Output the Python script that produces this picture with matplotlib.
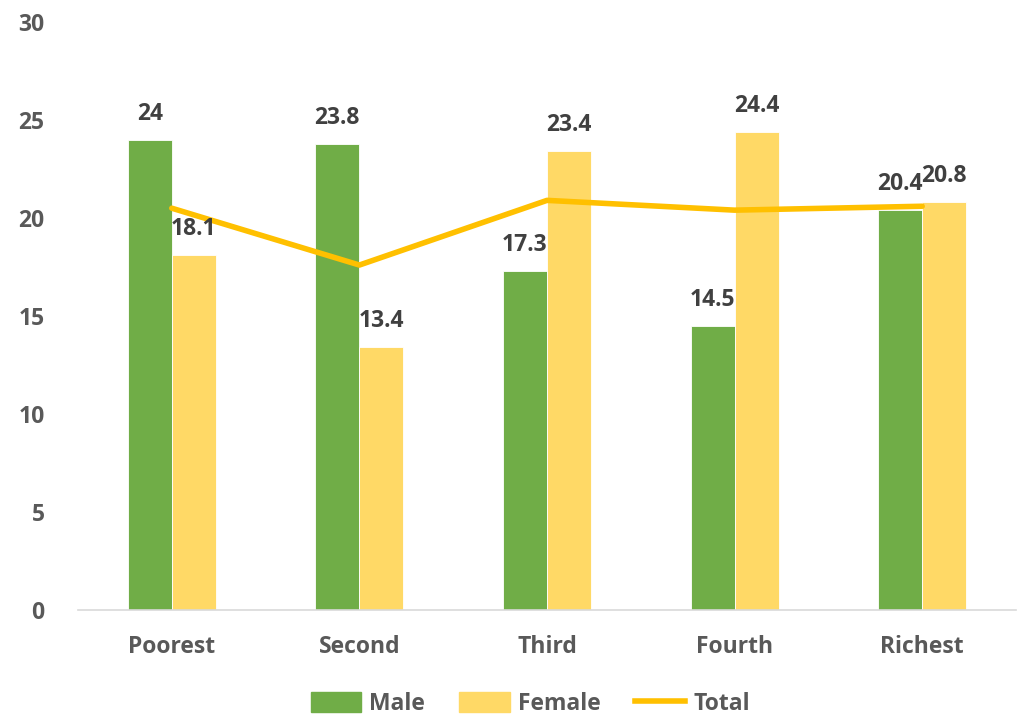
import numpy as np
import matplotlib.pyplot as plt
from matplotlib.patches import Patch
from matplotlib.lines import Line2D

plt.rcParams['font.family'] = ['Open Sans', 'DejaVu Sans']
plt.rcParams['font.weight'] = 'bold'

categories = ['Poorest', 'Second', 'Third', 'Fourth', 'Richest']
male = [24, 23.8, 17.3, 14.5, 20.4]
female = [18.1, 13.4, 23.4, 24.4, 20.8]
total = [20.5, 17.6, 20.9, 20.4, 20.6]

green = '#70AD47'
yellow = '#FFD966'
gold = '#FFC000'
grey = '#595959'
dark = '#404040'

fig = plt.figure(figsize=(10.30, 7.17), dpi=100)
ax = fig.add_axes([78 / 1030, 1 - 610 / 717, 938 / 1030, 588 / 717])

x = np.arange(len(categories))
w = 0.235
ax.bar(x - w / 2, male, w, color=green, edgecolor='white', linewidth=0.6)
ax.bar(x + w / 2, female, w, color=yellow, edgecolor='white', linewidth=0.6)
ax.plot(x, total, color=gold, linewidth=4, solid_capstyle='round')

for xi, v in zip(x, male):
    ax.annotate(f'{v:g}', (xi - w / 2, v), xytext=(0, 10), textcoords='offset points',
                ha='center', va='bottom', fontsize=16.5, fontweight='bold', color=dark)
for xi, v in zip(x, female):
    ax.annotate(f'{v:g}', (xi + w / 2, v), xytext=(0, 10), textcoords='offset points',
                ha='center', va='bottom', fontsize=16.5, fontweight='bold', color=dark)

ax.set_xlim(-0.5, len(categories) - 0.5)
ax.set_ylim(0, 30)
ax.set_yticks(range(0, 31, 5))
ax.set_xticks(x)
ax.set_xticklabels(categories)
ax.tick_params(axis='both', length=0, labelsize=16.5, labelcolor=grey)
ax.tick_params(axis='x', pad=18)
ax.tick_params(axis='y', pad=24)
for lbl in ax.get_xticklabels() + ax.get_yticklabels():
    lbl.set_fontweight('bold')

for s in ['top', 'right', 'left']:
    ax.spines[s].set_visible(False)
ax.spines['bottom'].set_color('#D9D9D9')
ax.spines['bottom'].set_linewidth(1.2)

handles = [Patch(color=green, label='Male'),
           Patch(color=yellow, label='Female'),
           Line2D([0], [0], color=gold, linewidth=4, label='Total')]
fig.legend(handles=handles, loc='center', bbox_to_anchor=(0.515, 1 - 704 / 717), ncol=3,
           frameon=False, prop={'size': 16.5, 'weight': 'bold'}, labelcolor=grey,
           handlelength=2.2, handleheight=1.0, columnspacing=1.5, handletextpad=0.35)

fig.savefig('out.png', dpi=100)
